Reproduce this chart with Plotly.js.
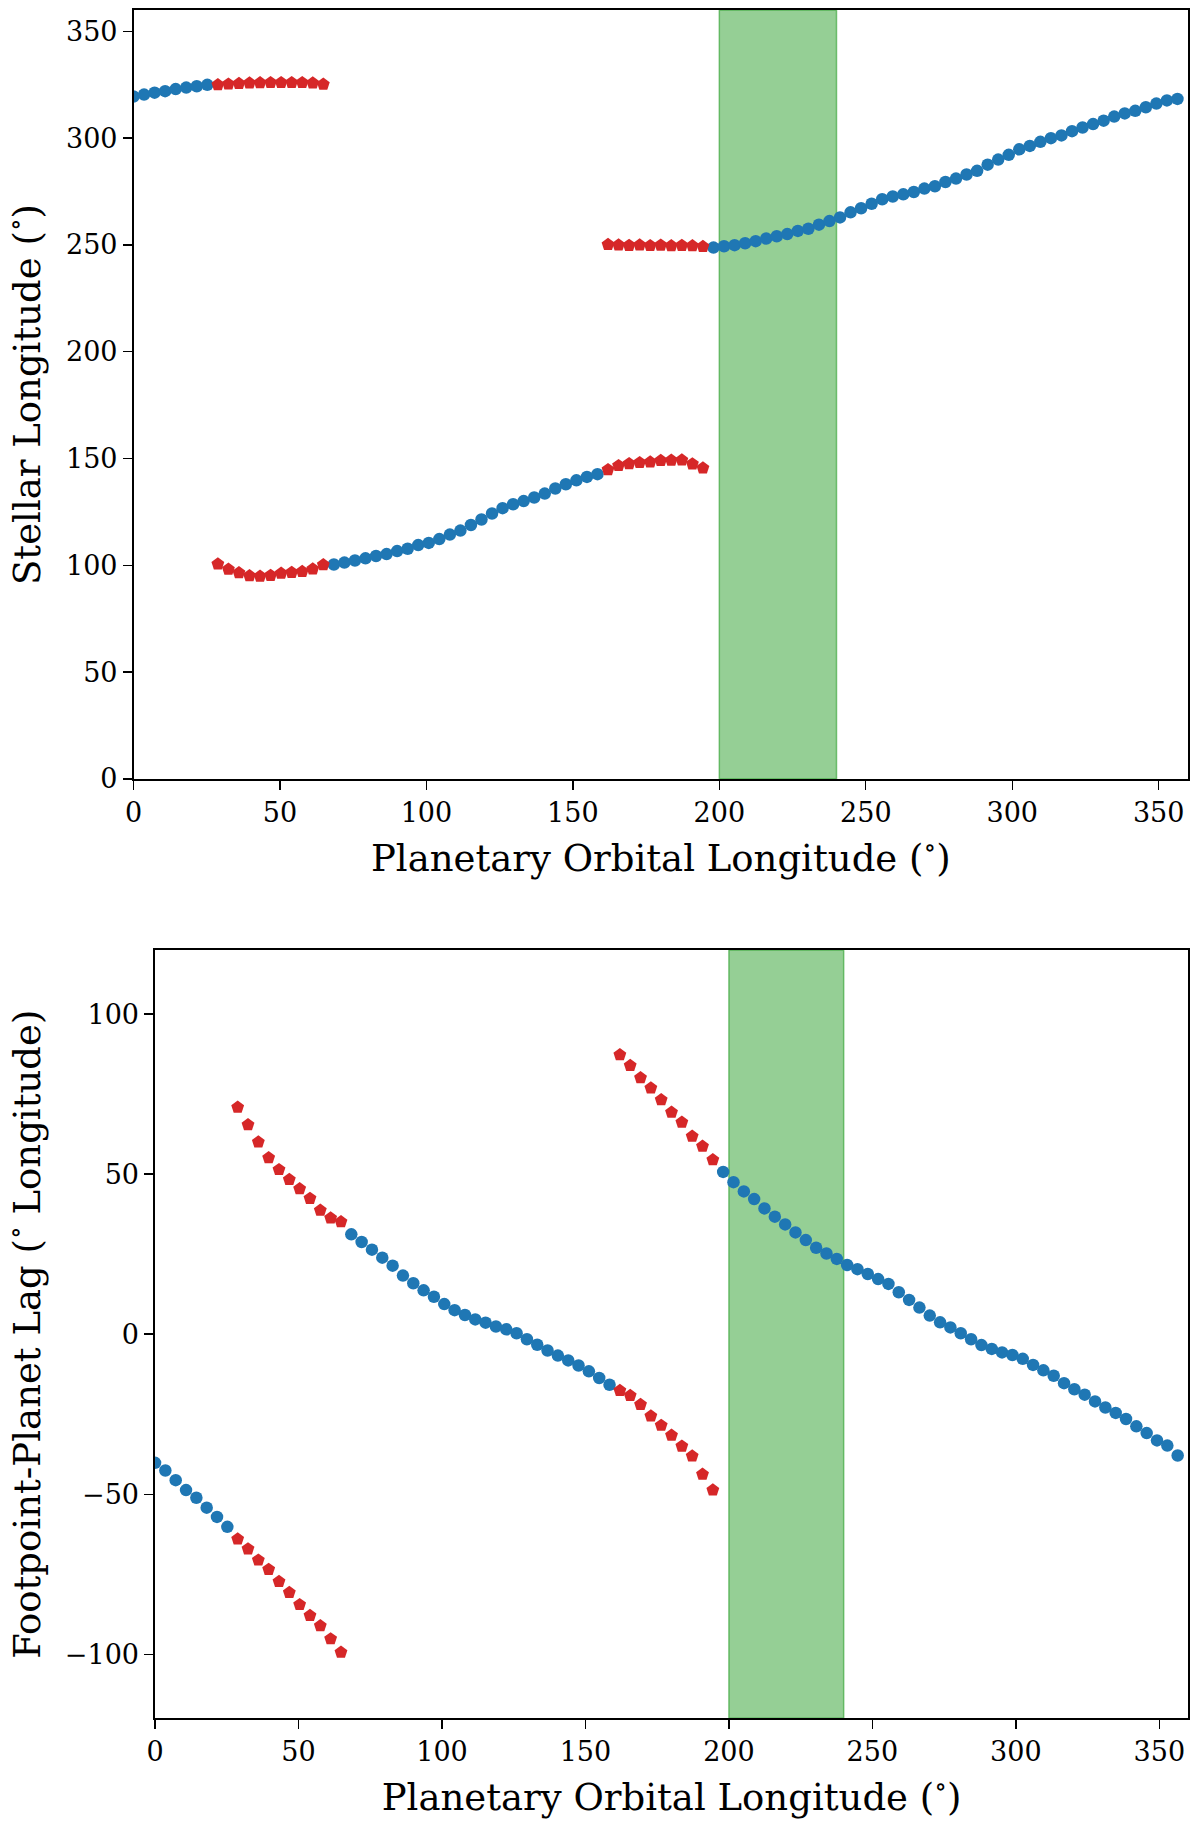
<!DOCTYPE html>
<html>
<head>
<meta charset="utf-8">
<script src="https://cdn.plot.ly/plotly-3.0.1.min.js"></script>
<style>
  html, body { margin: 0; padding: 0; background: #fff; }
  #plot { width: 1200px; height: 1826px; }
</style>
</head>
<body>
<div id="plot"></div>
<script>
// planetary orbital longitude of the points where the footpoint is visible (blue)
const blueLon = [
  0, 3.6, 7.2, 10.8, 14.4, 18, 21.6, 25.2,
  68.4, 72, 75.6, 79.2, 82.8, 86.4, 90, 93.6, 97.2, 100.8, 104.4, 108, 111.6, 115.2, 118.8,
  122.4, 126, 129.6, 133.2, 136.8, 140.4, 144, 147.6, 151.2, 154.8, 158.4,
  198, 201.6, 205.2, 208.8, 212.4, 216, 219.6, 223.2, 226.8, 230.4, 234, 237.6, 241.2, 244.8,
  248.4, 252, 255.6, 259.2, 262.8, 266.4, 270, 273.6, 277.2, 280.8, 284.4, 288, 291.6, 295.2,
  298.8, 302.4, 306, 309.6, 313.2, 316.8, 320.4, 324, 327.6, 331.2, 334.8, 338.4, 342, 345.6,
  349.2, 352.8, 356.4
];
const blueStellar = [
  319.5, 320.4, 321.3, 322.0, 323.0, 323.7, 324.3, 325.0,
  100.4, 101.3, 102.3, 103.3, 104.4, 105.3, 106.7, 107.8, 109.5, 110.5, 112.3, 114.4, 116.3, 118.9, 121.5,
  124.3, 126.8, 128.6, 130.1, 131.8, 133.6, 136.0, 138.0, 139.8, 141.4, 142.7,
  248.8, 249.4, 249.9, 250.8, 251.8, 253.0, 254.1, 255.1, 256.6, 257.6, 259.5, 261.2, 262.9, 265.3,
  267.2, 269.3, 271.4, 272.7, 273.7, 274.8, 276.4, 277.5, 279.5, 281.1, 283.0, 284.7, 287.6, 290.0,
  292.2, 294.8, 296.4, 298.3, 300.0, 301.3, 303.3, 305.0, 306.6, 308.2, 310.1, 311.6, 312.8, 314.5,
  316.2, 317.7, 318.4
];
const blueLag = [
  -40.2, -42.6, -45.6, -48.7, -51.1, -54.2, -57.1, -60.2,
  31.2, 28.8, 26.4, 23.9, 21.4, 18.3, 15.9, 13.7, 11.7, 9.4, 7.5, 6.0, 4.6, 3.6, 2.4,
  1.5, 0.3, -1.6, -3.3, -5.1, -6.7, -8.2, -9.8, -11.6, -13.7, -15.8,
  50.7, 47.5, 44.6, 42.2, 39.3, 36.7, 34.3, 31.8, 29.4, 27.0, 25.2, 23.5, 21.6, 20.3,
  18.8, 17.2, 15.7, 13.1, 10.7, 8.3, 5.8, 3.7, 2.1, 0.3, -1.6, -3.4, -4.6, -5.7,
  -6.5, -7.7, -9.6, -11.3, -13.0, -15.3, -17.2, -18.9, -21.0, -22.9, -24.6, -26.5, -28.8, -30.9,
  -33.2, -34.8, -37.9
];

// hidden footpoints (red), two branches at each of these longitudes
const redLon = [
  28.8, 32.4, 36, 39.6, 43.2, 46.8, 50.4, 54, 57.6, 61.2, 64.8,
  28.8, 32.4, 36, 39.6, 43.2, 46.8, 50.4, 54, 57.6, 61.2, 64.8,
  162, 165.6, 169.2, 172.8, 176.4, 180, 183.6, 187.2, 190.8, 194.4,
  162, 165.6, 169.2, 172.8, 176.4, 180, 183.6, 187.2, 190.8, 194.4
];
const redStellar = [
  325.0, 325.3, 325.6, 325.8, 325.9, 326.0, 326.0, 326.0, 326.0, 325.8, 325.2,
  100.6, 98.2, 96.5, 95.1, 94.9, 95.3, 96.3, 96.7, 97.1, 98.3, 100.3,
  144.8, 146.7, 147.6, 148.1, 148.4, 149.1, 149.2, 149.3, 147.5, 145.6,
  250.2, 250.0, 249.8, 250.0, 249.7, 249.9, 249.6, 249.8, 249.6, 249.3
];
const redLag = [
  -64.0, -67.1, -70.6, -73.5, -77.3, -80.7, -84.5, -87.9, -91.1, -95.2, -99.4,
  70.9, 65.4, 60.0, 55.1, 51.4, 48.3, 45.4, 42.4, 38.7, 36.3, 35.1,
  -17.6, -19.2, -22.0, -25.6, -28.5, -31.6, -35.0, -38.1, -43.8, -48.7,
  87.3, 83.9, 80.1, 76.9, 73.2, 69.3, 66.2, 61.8, 58.7, 54.5
];

// shaded window of orbital longitude
const bandLon = [200, 240];

const xTicks = [0, 50, 100, 150, 200, 250, 300, 350];
const topYTicks = [0, 50, 100, 150, 200, 250, 300, 350];
const botYTicks = [-100, -50, 0, 50, 100];

const BLUE = '#1f77b4', RED = '#d62728';
const SERIF = 'DejaVu Serif, serif';

const blueMarker = { color: BLUE, size: 12.5, symbol: 'circle' };
const redMarker = { color: RED, size: 13.5, symbol: 'pentagon' };

const traces = [
  { x: blueLon, y: blueStellar, mode: 'markers', marker: blueMarker, xaxis: 'x', yaxis: 'y' },
  { x: redLon, y: redStellar, mode: 'markers', marker: redMarker, xaxis: 'x', yaxis: 'y' },
  { x: blueLon, y: blueLag, mode: 'markers', marker: blueMarker, xaxis: 'x2', yaxis: 'y2' },
  { x: redLon, y: redLag, mode: 'markers', marker: redMarker, xaxis: 'x2', yaxis: 'y2' }
];

function axisBase(extra) {
  return Object.assign({
    showgrid: false, zeroline: false,
    showline: true, mirror: true, linecolor: '#000', linewidth: 1.6,
    ticks: 'outside', ticklen: 9, tickwidth: 1.4, tickcolor: '#000',
    tickfont: { family: SERIF, size: 27, color: '#000' },
    automargin: false
  }, extra);
}

const xTitle = { text: 'Planetary Orbital Longitude (<sup>∘</sup>)', font: { family: SERIF, size: 37, color: '#000' }, standoff: 18 };

const layout = {
  width: 1200, height: 1826,
  margin: { l: 0, r: 0, t: 0, b: 0 },
  paper_bgcolor: '#fff', plot_bgcolor: '#fff',
  showlegend: false,
  xaxis: axisBase({ domain: [0.11125, 0.99], range: [0, 360], tickvals: xTicks, anchor: 'y', title: xTitle }),
  yaxis: axisBase({ domain: [0.5734, 0.9945], range: [0, 360], tickvals: topYTicks, anchor: 'x',
    title: { text: 'Stellar Longitude (<sup>∘</sup>)', font: { family: SERIF, size: 37, color: '#000' }, standoff: 14 } }),
  xaxis2: axisBase({ domain: [0.1292, 0.99], range: [0, 360], tickvals: xTicks, anchor: 'y2', title: xTitle }),
  yaxis2: axisBase({ domain: [0.059, 0.4797], range: [-120, 120], tickvals: botYTicks, anchor: 'x2',
    tickformat: 'd',
    title: { text: 'Footpoint-Planet Lag (<sup>∘</sup> Longitude)', font: { family: SERIF, size: 37, color: '#000' }, standoff: 14 } }),
  shapes: [
    { type: 'rect', xref: 'x', yref: 'y domain', x0: bandLon[0], x1: bandLon[1], y0: 0, y1: 1,
      fillcolor: 'rgba(44,160,44,0.5)', line: { color: 'rgba(44,160,44,0.6)', width: 1.5 }, layer: 'below' },
    { type: 'rect', xref: 'x2', yref: 'y2 domain', x0: bandLon[0], x1: bandLon[1], y0: 0, y1: 1,
      fillcolor: 'rgba(44,160,44,0.5)', line: { color: 'rgba(44,160,44,0.6)', width: 1.5 }, layer: 'below' }
  ]
};

Plotly.newPlot('plot', traces, layout, { displayModeBar: false, staticPlot: true });
</script>
</body>
</html>
